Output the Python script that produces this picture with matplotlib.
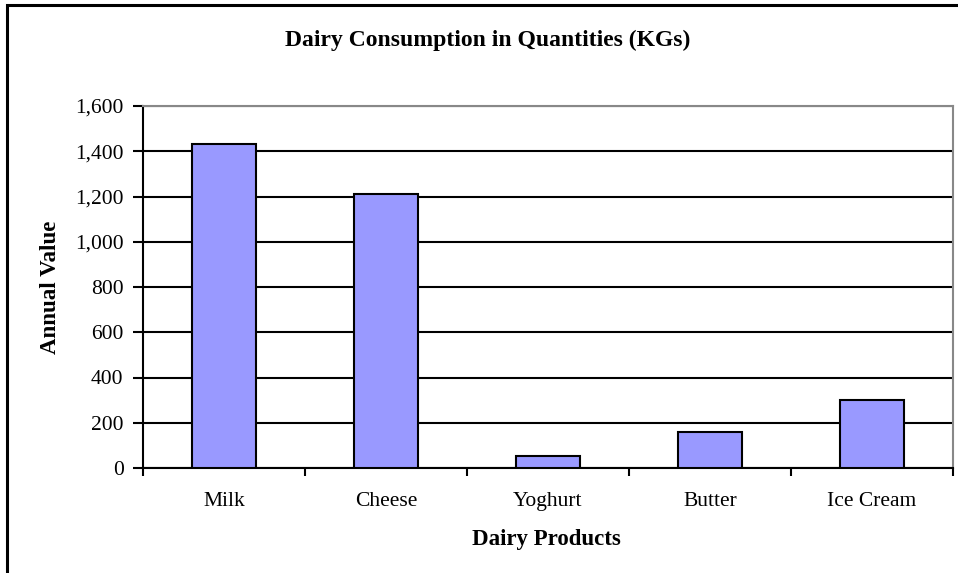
import matplotlib
matplotlib.use("Agg")
import matplotlib.pyplot as plt
from matplotlib.patches import Rectangle
from matplotlib.ticker import FuncFormatter, FixedLocator
import numpy as np

categories = ["Milk", "Cheese", "Yoghurt", "Butter", "Ice Cream"]
values = [1432, 1211, 53, 159, 300]
y_ticks = [0, 200, 400, 600, 800, 1000, 1200, 1400, 1600]

plt.rcParams['font.family'] = ['Liberation Serif', 'DejaVu Serif']

W, H = 958, 573
fig = plt.figure(figsize=(W / 100, H / 100), dpi=100)
fig.patch.set_facecolor("white")

# outer chart border (right/bottom cut off by image edge)
fig.add_artist(Rectangle((7 / W, -0.05), 1.2, (H - 5) / H + 0.05,
                         transform=fig.transFigure, fill=False,
                         edgecolor="black", linewidth=2.2))

left, right, top, bottom = 143, 953, 106, 468
ax = fig.add_axes([left / W, 1 - bottom / H, (right - left) / W, (bottom - top) / H])

x = np.arange(len(categories))
ax.bar(x, values, width=0.4, color="#9999FF", edgecolor="black", linewidth=1.5, zorder=3)

ax.set_xlim(-0.5, len(categories) - 0.5)
ax.set_ylim(0, 1600)
ax.yaxis.set_major_locator(FixedLocator(y_ticks))
ax.yaxis.set_major_formatter(FuncFormatter(lambda v, p: f"{int(v):,}"))
ax.set_xticks(x)
ax.set_xticklabels(categories, fontsize=15.5)
ax.xaxis.set_minor_locator(FixedLocator(np.arange(-0.5, len(categories), 1.0)))
ax.tick_params(axis="x", which="major", length=0, pad=17)
ax.tick_params(axis="x", which="minor", length=6, width=1.5, direction="out")
ax.tick_params(axis="y", length=7, width=1.5, direction="out", labelsize=15.5, pad=7)

ax.yaxis.grid(True, color="black", linewidth=1.5, zorder=1)
ax.set_axisbelow(True)

for s in ["left", "bottom"]:
    ax.spines[s].set_color("black")
    ax.spines[s].set_linewidth(1.5)
for s in ["top", "right"]:
    ax.spines[s].set_color("#888888")
    ax.spines[s].set_linewidth(1.5)

fig.text(488 / W, 1 - 40 / H, "Dairy Consumption in Quantities (KGs)",
         ha="center", va="center", fontsize=17, fontweight="bold")
fig.text(546 / W, 1 - 540 / H, "Dairy Products",
         ha="center", va="center", fontsize=16.5, fontweight="bold")
fig.text(50 / W, 1 - 287 / H, "Annual Value", rotation=90,
         ha="center", va="center", fontsize=16.5, fontweight="bold")

fig.savefig("out.png", dpi=100)
